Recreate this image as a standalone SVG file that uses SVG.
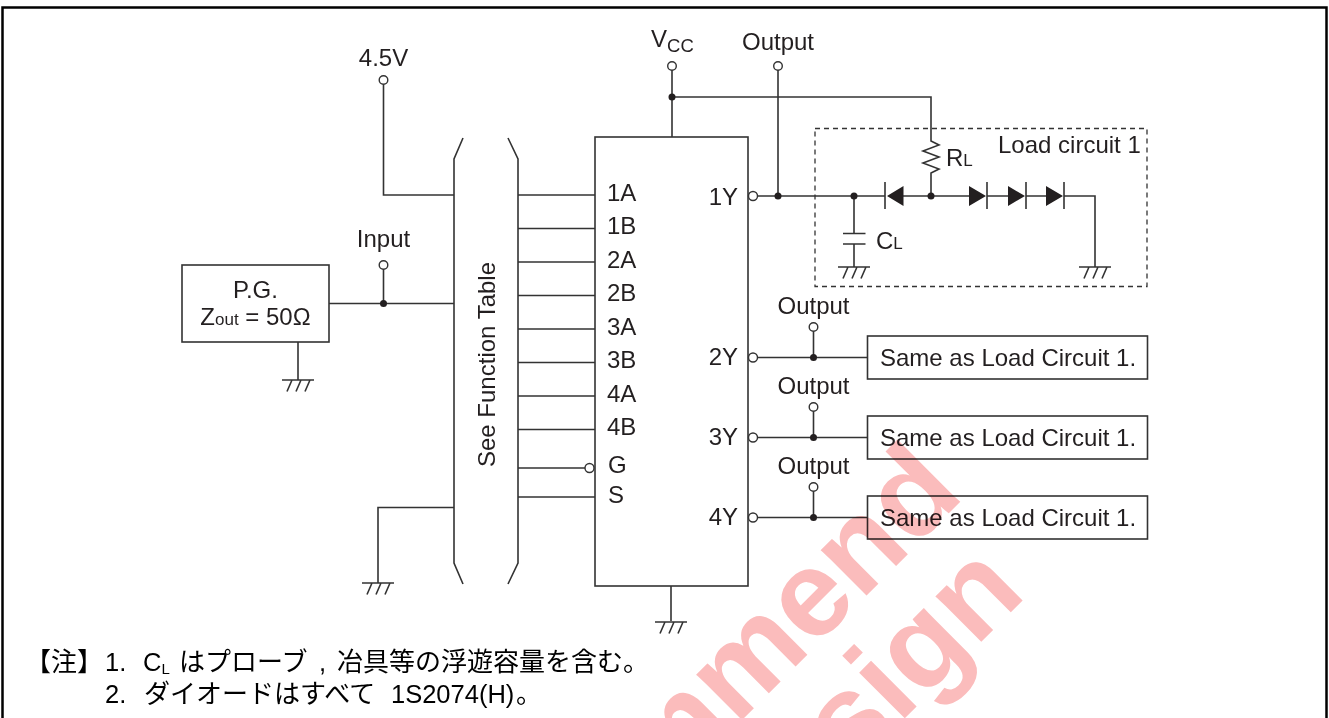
<svg xmlns="http://www.w3.org/2000/svg" width="1329" height="718" viewBox="0 0 1329 718">
<defs>
<style>
text{font-family:"Liberation Sans",Arial,"Noto Sans CJK JP",sans-serif;font-size:24px;fill:#231f20}
.w{stroke:#333;stroke-width:1.6;fill:none}
.b{stroke:#333;stroke-width:1.6;fill:none}
.o{stroke:#333;stroke-width:1.4;fill:#fff}
.j{fill:#231f20}
.m{text-anchor:middle}
.e{text-anchor:end}
.s{font-size:17px}
.wm{font-weight:bold;font-size:122px;fill:#fbbcbc;text-anchor:end}
.jp{font-family:"Noto Sans CJK JP","Liberation Sans",sans-serif;font-size:26px;fill:#000}
.n{font-size:25.500px;fill:#000}
#watermark{mix-blend-mode:multiply}
</style>
<g id="gnd"><path class="w" d="M-16 0H16M-6 0L-11 11.500M3 0L-2 11.500M12 0L7 11.500"/></g>
</defs>
<rect width="1329" height="718" fill="#fff"/>
<path id="frame" d="M2.500 718V7.500H1326.500V718" fill="none" stroke="#000" stroke-width="2.500"/>
<g id="connectors">
<path class="w" d="M383.500 84V195H454M329 303.500H454M383.500 269V303.500M298 342V380M454 507.500H378V583"/>
<path class="w" d="M518 195H595M518 228.500H595M518 262H595M518 295.500H595M518 329H595M518 362.500H595M518 396H595M518 429.500H595M518 468H585M518 497H595"/>
<path class="w" d="M672 70V137M672 97H931V141L939 145L923 151L939 157L923 163L939 169L931 173V196M778 70V196M671 586V621"/>
<path class="w" d="M757 196H885M903 196H969M987 196H1008M1026 196H1046M1064 196H1095V267M854 196V233M854 244V267"/>
<path class="w" d="M843 233.500H865.500M843 244H865.500"/>
<path class="w" d="M885 182V209M987 182V209M1026 182V209M1064 182V209"/>
<path class="j" d="M887 196L903.500 186V206ZM986 196L969 186V206ZM1025 196L1008 186V206ZM1063 196L1046 186V206Z"/>
<path class="w" d="M757 357.500H867.500M757 437.500H867.500M757 517.500H867.500M813.500 331V357.500M813.500 411V437.500M813.500 491V517.500"/>
<use href="#gnd" x="298" y="380"/>
<use href="#gnd" x="378" y="583"/>
<use href="#gnd" x="671" y="622"/>
<use href="#gnd" x="854" y="267"/>
<use href="#gnd" x="1095" y="267"/>
<g class="o"><circle cx="383.500" cy="80" r="4.300"/><circle cx="383.500" cy="265" r="4.300"/><circle cx="672" cy="66" r="4.300"/><circle cx="778" cy="66" r="4.300"/><circle cx="753" cy="196" r="4.500"/><circle cx="753" cy="357.500" r="4.500"/><circle cx="753" cy="437.500" r="4.500"/><circle cx="753" cy="517.500" r="4.500"/><circle cx="589.500" cy="468" r="4.500"/><circle cx="813.500" cy="327" r="4.300"/><circle cx="813.500" cy="407" r="4.300"/><circle cx="813.500" cy="487" r="4.300"/></g>
<g class="j"><circle cx="383.500" cy="303.500" r="3.500"/><circle cx="672" cy="97" r="3.500"/><circle cx="778" cy="196" r="3.500"/><circle cx="854" cy="196" r="3.500"/><circle cx="931" cy="196" r="3.500"/><circle cx="813.500" cy="357.500" r="3.500"/><circle cx="813.500" cy="437.500" r="3.500"/><circle cx="813.500" cy="517.500" r="3.500"/></g>
<path class="w" d="M463 138L454 159V563L463 584M508 138L518 159V563L508 584"/>
</g>
<g id="pg"><rect class="b" x="182" y="265" width="147" height="77"/>
<text class="m" x="255.500" y="298">P.G.</text>
<text class="m" x="255.500" y="325">Z<tspan class="s">out</tspan> = 50Ω</text></g>
<g id="bus"><text class="m" transform="translate(494.500,364.500) rotate(-90)">See Function Table</text></g>
<g id="ic"><rect class="b" x="595" y="137" width="153" height="449"/>
<text x="607" y="201">1A</text><text x="607" y="234">1B</text><text x="607" y="268">2A</text><text x="607" y="301">2B</text><text x="607" y="335">3A</text><text x="607" y="368">3B</text><text x="607" y="402">4A</text><text x="607" y="435">4B</text><text x="608" y="473">G</text><text x="608" y="503">S</text>
<text class="e" x="738" y="205">1Y</text><text class="e" x="738" y="365">2Y</text><text class="e" x="738" y="445">3Y</text><text class="e" x="738" y="525">4Y</text></g>
<g id="labels"><text class="m" x="383.500" y="66">4.5V</text><text class="m" x="383.500" y="247">Input</text><text x="651" y="47">V<tspan dy="5" style="font-size:18.500px">CC</tspan></text><text class="m" x="778" y="50">Output</text><text class="m" x="813.500" y="314">Output</text><text class="m" x="813.500" y="394">Output</text><text class="m" x="813.500" y="474">Output</text></g>
<g id="load1"><rect x="815" y="128.500" width="332" height="158" fill="none" stroke="#333" stroke-width="1.300" stroke-dasharray="5 4"/>
<text x="998" y="153">Load circuit 1</text><text x="946" y="166">R<tspan class="s">L</tspan></text><text x="876" y="249">C<tspan class="s">L</tspan></text></g>
<g id="load2"><rect class="b" x="867.500" y="336" width="280" height="43"/><text x="880" y="366">Same as Load Circuit 1.</text></g>
<g id="load3"><rect class="b" x="867.500" y="416" width="280" height="43"/><text x="880" y="446">Same as Load Circuit 1.</text></g>
<g id="load4"><rect class="b" x="867.500" y="496" width="280" height="43"/><text x="880" y="526">Same as Load Circuit 1.</text></g>
<g id="notes"><text class="jp" x="25" y="671">【注】</text><text class="n" x="105" y="671">1.</text><text class="n" x="143" y="671">C<tspan style="font-size:15px" dy="3">L</tspan></text><text class="jp" x="179" y="671">はプローブ</text><text class="n" x="319" y="671">,</text><text class="jp" x="337" y="671">冶具等の浮遊容量を含む。</text>
<text class="n" x="105" y="702.500">2.</text><text class="jp" x="144" y="702.500">ダイオードはすべて</text><text class="n" x="391" y="702.500">1S2074(H)</text><text class="jp" x="516" y="702.500">。</text></g>
<g id="watermark">
<text class="wm" transform="translate(966,496) rotate(-45)">mmend</text>
<text class="wm" transform="translate(1028,595) rotate(-45)">sign</text>
</g>
</svg>
